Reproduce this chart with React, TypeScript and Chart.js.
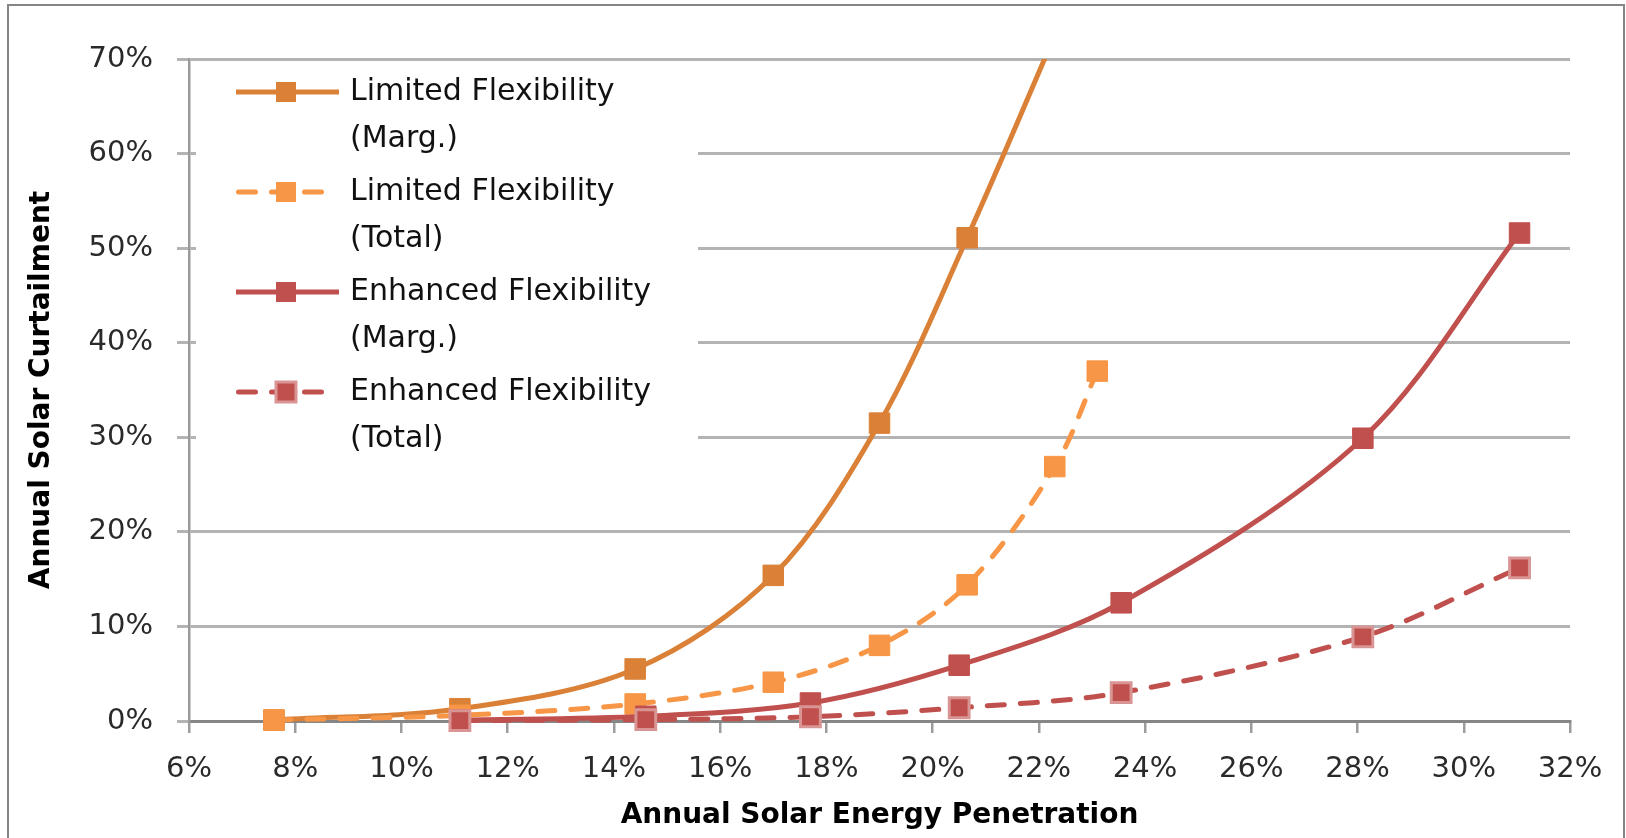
import React, { useEffect, useRef } from "react";
import { Chart, registerables } from "chart.js";

Chart.register(...registerables);

// Penetration (x, %) and curtailment (y, %) for each scenario
const limitedX = [7.6, 11.1, 14.4, 17.0, 19.0, 20.65, 22.3, 23.1];
const limitedMarg = [0.1, 1.3, 5.5, 15.4, 31.5, 51.1, 72.5];
const limitedTotal = [0.1, 0.6, 1.8, 4.1, 8.0, 14.4, 26.9, 37.0];
const enhancedX = [11.1, 14.6, 17.7, 20.5, 23.55, 28.1, 31.05];
const enhancedMarg = [0.1, 0.5, 1.9, 5.9, 12.5, 29.9, 51.6];
const enhancedTotal = [0.05, 0.15, 0.45, 1.4, 3.0, 8.9, 16.2];

const xTicks = { min: 6, max: 32, step: 2 };
const yTicks = { min: 0, max: 70, step: 10 };

const seriesNames = [
  "Limited Flexibility (Marg.)",
  "Limited Flexibility (Total)",
  "Enhanced Flexibility (Marg.)",
  "Enhanced Flexibility (Total)",
];

const FONT = "'DejaVu Sans', 'Liberation Sans', sans-serif";
const DARK_ORANGE = "#DA8137";
const ORANGE = "#F79646";
const RED = "#C0504D";
const PINK_EDGE = "#D99593";
const DASH = [17, 16];

const toPoints = (xs: number[], ys: number[]) => ys.map((y, i) => ({ x: xs[i], y }));

// Outer frame plus an in-plot legend with two-line labels
const frameAndLegend = {
  id: "frameAndLegend",
  beforeDraw(chart: any) {
    const { ctx } = chart;
    ctx.save();
    ctx.strokeStyle = "#868686";
    ctx.lineWidth = 2;
    ctx.beginPath();
    ctx.moveTo(8, 900);
    ctx.lineTo(8, 5);
    ctx.lineTo(1624, 5);
    ctx.lineTo(1624, 900);
    ctx.stroke();
    ctx.restore();
  },
  beforeDatasetsDraw(chart: any) {
    const { ctx, chartArea } = chart;
    const left = chartArea.left;
    const top = chartArea.top;
    ctx.save();
    ctx.fillStyle = "#ffffff";
    ctx.fillRect(left + 7, top + 4, 509 - 7, 400);

    chart.data.datasets.forEach((ds: any, i: number) => {
      const y = top + 33 + i * 100;
      const x0 = left + 47;
      const x1 = left + 150;
      const mx = left + 97;
      const dashed = ds.borderDash && ds.borderDash.length > 0;
      ctx.save();
      ctx.strokeStyle = ds.borderColor;
      ctx.lineWidth = 5;
      ctx.lineCap = dashed ? "round" : "butt";
      ctx.setLineDash(ds.borderDash || []);
      ctx.beginPath();
      ctx.moveTo(dashed ? x0 + 2.5 : x0, y);
      ctx.lineTo(dashed ? x1 - 12 : x1, y);
      ctx.stroke();
      ctx.setLineDash([]);
      const s = 20;
      ctx.fillStyle = ds.pointBackgroundColor;
      ctx.fillRect(mx - s / 2, y - s / 2, s, s);
      if (ds.pointBorderWidth > 1) {
        ctx.strokeStyle = ds.pointBorderColor;
        ctx.lineWidth = ds.pointBorderWidth;
        ctx.strokeRect(mx - s / 2, y - s / 2, s, s);
      }
      ctx.restore();

      const label: string = ds.label;
      const cut = label.indexOf(" (");
      const lines = [label.slice(0, cut), label.slice(cut + 1)];
      ctx.fillStyle = "#111111";
      ctx.font = `30px ${FONT}`;
      ctx.textAlign = "left";
      ctx.textBaseline = "middle";
      ctx.fillText(lines[0], left + 161, y);
      ctx.fillText(lines[1], left + 161, y + 47);
    });
    ctx.restore();
  },
};

export default function App() {
  const canvasRef = useRef<HTMLCanvasElement | null>(null);

  useEffect(() => {
    const canvas = canvasRef.current;
    if (!canvas) return;

    const lineCommon = {
      showLine: true,
      borderWidth: 5,
      tension: 0.33,
      pointStyle: "rect",
      pointRadius: 14.5,
      pointHoverRadius: 14.5,
      clip: { left: 30, right: 30, top: 0, bottom: 30 },
    };

    const chart = new Chart(canvas, {
      type: "scatter",
      data: {
        datasets: [
          {
            ...lineCommon,
            label: seriesNames[0],
            data: toPoints(limitedX, limitedMarg),
            borderColor: DARK_ORANGE,
            backgroundColor: DARK_ORANGE,
            pointBackgroundColor: DARK_ORANGE,
            pointBorderColor: DARK_ORANGE,
            pointBorderWidth: 1,
            order: 4,
          },
          {
            ...lineCommon,
            label: seriesNames[1],
            data: toPoints(limitedX, limitedTotal),
            borderColor: ORANGE,
            backgroundColor: ORANGE,
            borderDash: DASH,
            borderCapStyle: "round",
            pointBackgroundColor: ORANGE,
            pointBorderColor: ORANGE,
            pointBorderWidth: 1,
            order: 3,
          },
          {
            ...lineCommon,
            label: seriesNames[2],
            data: toPoints(enhancedX, enhancedMarg),
            borderColor: RED,
            backgroundColor: RED,
            pointBackgroundColor: RED,
            pointBorderColor: RED,
            pointBorderWidth: 1,
            order: 2,
          },
          {
            ...lineCommon,
            label: seriesNames[3],
            data: toPoints(enhancedX, enhancedTotal),
            borderColor: RED,
            backgroundColor: RED,
            borderDash: DASH,
            borderCapStyle: "round",
            pointBackgroundColor: RED,
            pointBorderColor: PINK_EDGE,
            pointBorderWidth: 3,
            pointRadius: 14,
            order: 1,
          },
        ],
      },
      options: {
        animation: false,
        responsive: false,
        events: [],
        layout: { padding: { top: 59, right: 56, left: 0, bottom: 0 } },
        elements: { line: { capBezierPoints: false } },
        plugins: {
          legend: { display: false },
          tooltip: { enabled: false },
        },
        scales: {
          x: {
            type: "linear",
            min: xTicks.min,
            max: xTicks.max,
            afterFit: (s: any) => {
              s.height = 117;
            },
            ticks: {
              stepSize: xTicks.step,
              autoSkip: false,
              maxRotation: 0,
              padding: 19,
              color: "#2a2a2a",
              font: { family: FONT, size: 29 },
              callback: (v: any) => `${v}%`,
            },
            grid: {
              drawOnChartArea: false,
              drawTicks: true,
              tickLength: 12,
              color: "#9C9C9C",
              lineWidth: 2.5,
            },
            border: { color: "#868686", width: 3 },
            title: {
              display: true,
              text: "Annual Solar Energy Penetration",
              color: "#000000",
              font: { family: FONT, size: 28, weight: "bold" },
              padding: { top: 0, bottom: 5 },
            },
          },
          y: {
            type: "linear",
            min: yTicks.min,
            max: yTicks.max,
            afterFit: (s: any) => {
              s.width = 189;
            },
            ticks: {
              stepSize: yTicks.step,
              padding: 24,
              color: "#2a2a2a",
              font: { family: FONT, size: 29 },
              callback: (v: any) => `${v}%`,
            },
            grid: {
              color: "#B3B3B3",
              lineWidth: 3,
              drawTicks: true,
              tickLength: 12,
            },
            border: { color: "#9A9A9A", width: 2.5 },
            title: {
              display: true,
              text: "Annual Solar Curtailment",
              color: "#000000",
              font: { family: FONT, size: 28, weight: "bold" },
              padding: { top: 25, bottom: 0 },
            },
          },
        },
      },
      plugins: [frameAndLegend],
    } as any);

    return () => chart.destroy();
  }, []);

  return (
    <div style={{ position: "fixed", left: 0, top: 0, width: 1626, height: 838, background: "#ffffff" }}>
      <canvas ref={canvasRef} width={1626} height={838} style={{ display: "block" }} />
    </div>
  );
}
